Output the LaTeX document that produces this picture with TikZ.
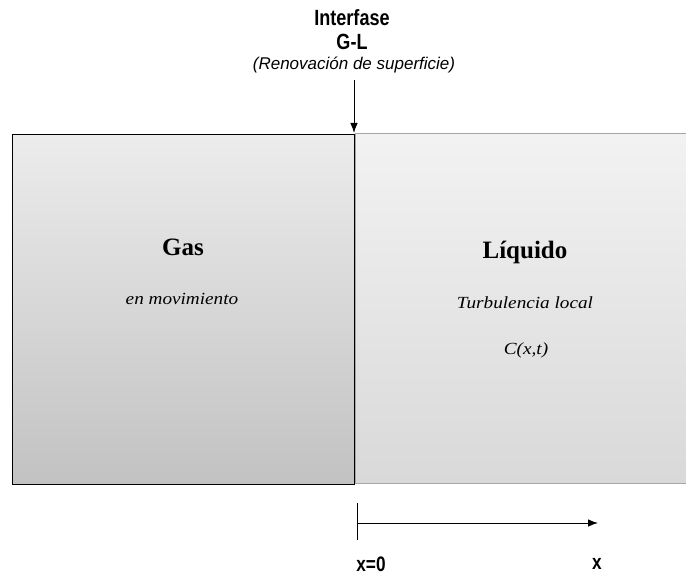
\documentclass[tikz,border=0pt]{standalone}
\usepackage{fontspec}
\setmainfont{Liberation Serif}
\newfontfamily\narrowbold{Liberation Sans}[FakeStretch=0.82,UprightFont={* Bold}]
\newfontfamily\sansit{Liberation Sans}[UprightFont={* Italic}]
\newfontfamily\wideit{Liberation Serif}[FakeStretch=1.13,UprightFont={* Italic}]
\usetikzlibrary{arrows.meta}
\begin{document}
\begin{tikzpicture}[x=1pt,y=-1pt,
  gasbox/.style={draw=black,line width=1.2pt,top color=gray!15,bottom color=gray!48,inner sep=0pt,anchor=north west},
  liqbox/.style={draw=gray!70,line width=1.2pt,top color=gray!10,bottom color=gray!30,inner sep=0pt,anchor=north west},
  title/.style={font=\fontsize{25}{28}\selectfont\bfseries},
  sub/.style={font=\fontsize{17}{20}\selectfont\wideit},
  head/.style={font=\fontsize{22}{25}\selectfont\narrowbold},
  axlab/.style={font=\fontsize{21}{24}\selectfont\narrowbold},
  arr/.style={line width=0.9pt,-{Latex[length=10pt,width=7.5pt]}}]
\useasboundingbox (0,0) rectangle (686,575);
\node[gasbox,minimum width=342pt,minimum height=350pt] (gas) at (12,134) {};
\node[liqbox,minimum width=340pt,minimum height=350pt] (liq) at (355,133) {};
\node[title] (tgas) at (183,247) {Gas};
\node[sub] (sgas) at (182,299) {en movimiento};
\node[title] (tliq) at (525,252) {Líquido};
\node[sub] (sliq) at (525,303) {Turbulencia local};
\node[sub] (cxt) at (526,350) {C(x,t)};
\node[head] (int) at (352,18) {Interfase};
\node[head] (gl) at (352,42) {G-L};
\node[font=\fontsize{17}{20}\selectfont\sansit] (ren) at (354,65) {(Renovación de superficie)};
\coordinate (itop) at (354,80);
\draw[arr] (itop) -- (itop |- liq.north);
\coordinate (o) at (357,523);
\coordinate (ot) at (357,503);
\coordinate (ob) at (357,540);
\coordinate (xe) at (598,523);
\draw[line width=0.9pt] (ot) -- (ob);
\draw[arr] (o) -- (xe);
\node[axlab] (x0) at (371,564) {x=0};
\node[axlab] (xl) at (597,564) {x};
\end{tikzpicture}
\end{document}
